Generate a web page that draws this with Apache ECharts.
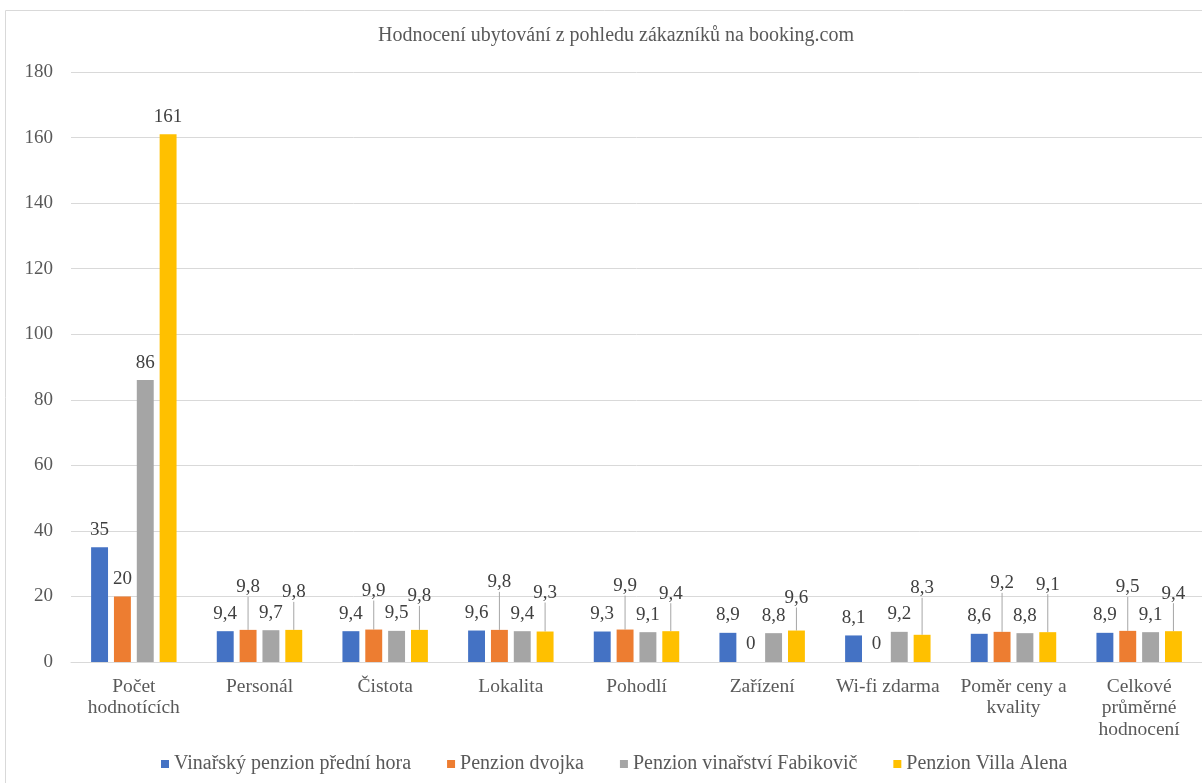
<!DOCTYPE html>
<html>
<head>
<meta charset="utf-8">
<script src="https://cdn.jsdelivr.net/npm/echarts@6/dist/echarts.min.js"></script>
<style>
  html, body { margin: 0; padding: 0; background: #fff; }
  #chart { width: 1202px; height: 783px; }
</style>
</head>
<body>
<div id="chart"></div>
<script>
// kategorie
var categories = ['Počet\nhodnotících', 'Personál', 'Čistota', 'Lokalita', 'Pohodlí',
    'Zařízení', 'Wi-fi zdarma', 'Poměr ceny a\nkvality', 'Celkové\nprůměrné\nhodnocení'];

var seriesNames = ['Vinařský penzion přední hora', 'Penzion dvojka',
    'Penzion vinařství Fabikovič', 'Penzion Villa Alena'];

// hodnoty
var vinarskyPenzion = [35, 9.4, 9.4, 9.6, 9.3, 8.9, 8.1, 8.6, 8.9];
var penzionDvojka = [20, 9.8, 9.9, 9.8, 9.9, 0, 0, 9.2, 9.5];
var penzionFabikovic = [86, 9.7, 9.5, 9.4, 9.1, 8.8, 9.2, 8.8, 9.1];
var villaAlena = [161, 9.8, 9.8, 9.3, 9.4, 9.6, 8.3, 9.1, 9.4];

var yTicks = [0, 20, 40, 60, 80, 100, 120, 140, 160, 180];

// posun popisků nahoru (jako v Excelu, s odkazovou čarou)
var labelShift = [
    [0, 0, 0, 0, 0, 0, 0, 0, 0],
    [0, -25, -21, -30, -26, 0, 0, -31, -26],
    [0, 0, 0, 0, 0, 0, 0, 0, 0],
    [0, -20, -16, -21, -20, -15, -29, -30, -20]
];

var colors = ['#4472C4', '#ED7D31', '#A5A5A5', '#FFC000'];
var values = [vinarskyPenzion, penzionDvojka, penzionFabikovic, villaAlena];
var font = '"Liberation Serif", "Times New Roman", serif';

var chart = echarts.init(document.getElementById('chart'));

var series = values.map(function (data, si) {
    return {
        name: seriesNames[si],
        type: 'bar',
        data: data.map(function (v, i) {
            return {
                value: v,
                labelLine: { show: labelShift[si][i] !== 0 }
            };
        }),
        barGap: '35%',
        barCategoryGap: '32%',
        itemStyle: { color: colors[si] },
        label: {
            show: true,
            position: 'top',
            distance: 8,
            fontFamily: font,
            fontSize: 19,
            color: '#404040',
            formatter: function (p) {
                return String(p.value).replace('.', ',');
            }
        },
        labelLine: {
            show: false,
            lineStyle: { color: '#a6a6a6', width: 1 }
        },
        labelLayout: function (p) {
            var dy = labelShift[si][p.dataIndex];
            return dy ? { dy: dy } : {};
        }
    };
});

var option = {
    animation: false,
    color: colors,
    title: {
        text: 'Hodnocení ubytování z pohledu zákazníků na booking.com',
        left: 378,
        top: 26,
        padding: 0,
        textStyle: {
            fontFamily: font,
            fontSize: 20,
            fontWeight: 'normal',
            color: '#595959'
        }
    },
    legend: {
        data: seriesNames,
        top: 754,
        left: 161,
        padding: 0,
        icon: 'rect',
        itemWidth: 8,
        itemHeight: 8,
        itemGap: 36,
        textStyle: {
            fontFamily: font,
            fontSize: 20,
            color: '#595959'
        }
    },
    grid: {
        left: 71,
        right: 0,
        top: 72,
        bottom: 121,
        containLabel: false
    },
    xAxis: {
        type: 'category',
        data: categories,
        axisLine: { lineStyle: { color: '#d9d9d9', width: 1 } },
        axisTick: { show: false },
        axisLabel: {
            interval: 0,
            margin: 14,
            fontFamily: font,
            fontSize: 19.5,
            lineHeight: 21.5,
            color: '#595959'
        }
    },
    yAxis: {
        type: 'value',
        min: yTicks[0],
        max: yTicks[yTicks.length - 1],
        interval: yTicks[1] - yTicks[0],
        axisLine: { show: false },
        axisTick: { show: false },
        splitLine: { lineStyle: { color: '#d9d9d9', width: 1 } },
        axisLabel: {
            margin: 18,
            fontFamily: font,
            fontSize: 19,
            color: '#595959'
        }
    },
    graphic: [{
        type: 'rect',
        shape: { x: 5.5, y: 10.5, width: 1220, height: 800 },
        style: { fill: 'none', stroke: '#d9d9d9', lineWidth: 1 },
        silent: true,
        z: -1
    }],
    series: series
};

chart.setOption(option);
</script>
</body>
</html>
